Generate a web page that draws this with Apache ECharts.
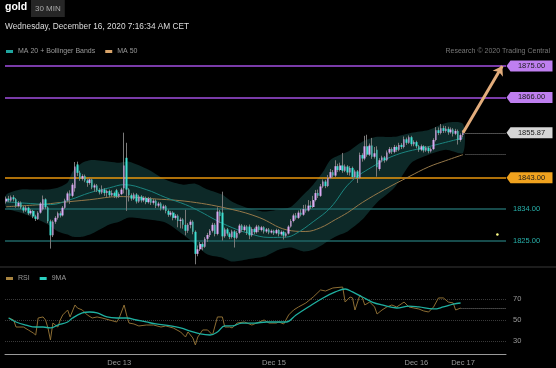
<!DOCTYPE html>
<html><head><meta charset="utf-8">
<script src="https://cdn.jsdelivr.net/npm/echarts@6/dist/echarts.min.js"></script>
<style>html,body{margin:0;padding:0;background:#000;}#c{width:556px;height:368px;}</style>
</head><body><div id="c"></div>
<script>
// 30-min gold candles: [open, close, low, high]
const candles = [
[1836.2,1837.0,1835.6,1837.6],[1837.0,1836.5,1836.0,1837.8],[1836.5,1837.4,1836.1,1837.9],[1837.4,1836.8,1836.2,1838.0],
[1836.8,1834.9,1834.4,1837.2],[1834.9,1835.8,1834.5,1836.3],[1835.8,1834.5,1834.0,1836.2],[1834.5,1833.6,1833.0,1835.0],
[1833.6,1834.4,1833.2,1834.9],[1834.4,1832.8,1832.3,1834.7],[1832.8,1833.5,1832.4,1834.0],[1833.5,1831.9,1831.4,1833.8],
[1831.9,1831.2,1830.6,1832.4],[1831.2,1833.0,1830.9,1833.4],[1833.0,1835.6,1832.7,1836.0],[1834.0,1836.8,1833.6,1837.9],
[1836.8,1834.5,1834.0,1837.1],[1834.5,1830.5,1830.0,1834.8],[1830.5,1826.5,1822.7,1831.0],[1826.5,1830.4,1826.0,1830.8],
[1830.4,1831.5,1829.8,1832.0],[1831.5,1832.8,1831.0,1833.3],[1832.8,1832.2,1831.6,1833.4],[1832.2,1834.4,1831.9,1834.9],
[1834.4,1836.5,1834.0,1837.0],[1836.5,1838.5,1836.0,1839.0],[1838.5,1837.8,1835.5,1839.4],[1837.8,1841.0,1837.4,1841.5],
[1840.0,1846.2,1839.0,1847.5],[1846.8,1844.4,1843.5,1847.6],[1844.4,1842.7,1842.1,1845.0],[1842.7,1843.5,1842.2,1844.0],
[1843.5,1842.2,1841.7,1843.9],[1842.2,1841.5,1840.4,1842.6],[1841.5,1842.5,1841.0,1842.9],[1842.5,1840.2,1839.7,1842.8],
[1840.2,1840.8,1839.0,1841.3],[1840.8,1839.5,1838.9,1841.2],[1839.5,1838.8,1838.2,1840.0],[1838.8,1839.6,1838.3,1840.8],
[1839.6,1838.6,1837.8,1840.0],[1838.6,1839.2,1837.5,1839.6],[1839.2,1838.0,1837.4,1839.6],[1838.0,1838.6,1837.6,1839.4],
[1838.6,1837.8,1837.2,1839.0],[1839.4,1837.6,1837.1,1839.8],[1837.6,1838.3,1837.2,1838.8],[1838.3,1839.6,1838.0,1840.1],
[1840.0,1846.5,1838.5,1855.9],[1848.7,1839.6,1833.5,1853.0],[1839.6,1838.0,1836.2,1840.0],[1838.0,1837.0,1836.4,1838.5],
[1837.0,1838.2,1836.6,1838.7],[1838.2,1836.2,1835.6,1838.6],[1836.2,1837.6,1835.8,1838.1],[1837.6,1836.5,1835.9,1838.0],
[1836.5,1837.2,1836.0,1837.7],[1837.2,1836.0,1835.4,1837.6],[1836.0,1837.0,1835.6,1837.5],[1837.0,1835.8,1835.2,1837.4],
[1835.8,1836.4,1835.3,1836.9],[1836.4,1835.0,1834.3,1836.8],[1835.0,1835.6,1834.5,1836.1],[1835.6,1834.2,1833.6,1836.0],
[1834.2,1834.8,1833.7,1835.3],[1834.8,1833.5,1832.8,1835.2],[1833.5,1832.4,1831.8,1833.9],[1832.4,1833.0,1831.9,1833.5],
[1833.0,1831.5,1830.8,1833.4],[1831.5,1832.1,1831.0,1832.6],[1832.1,1830.6,1828.8,1832.5],[1830.6,1831.0,1828.5,1831.6],
[1831.0,1829.5,1828.4,1831.4],[1829.5,1827.8,1826.5,1833.8],[1827.8,1829.5,1827.2,1830.0],[1829.5,1830.4,1828.5,1831.0],
[1830.4,1827.5,1826.8,1830.8],[1827.5,1821.2,1818.2,1827.9],[1821.2,1822.5,1820.5,1823.6],[1822.5,1824.0,1822.0,1824.6],
[1824.0,1823.2,1822.2,1824.5],[1823.2,1825.5,1822.9,1826.0],[1825.5,1826.6,1824.6,1827.2],[1826.6,1827.8,1826.0,1828.3],
[1827.8,1829.5,1827.3,1830.1],[1829.5,1826.9,1826.2,1830.0],[1826.9,1833.3,1826.5,1834.5],[1833.3,1832.0,1830.0,1833.8],
[1833.0,1826.2,1825.0,1839.0],[1826.2,1828.2,1825.8,1828.7],[1828.2,1827.0,1826.4,1828.6],[1827.0,1826.0,1825.4,1827.4],
[1826.0,1827.6,1825.6,1828.1],[1827.6,1825.8,1823.0,1828.0],[1825.8,1827.2,1825.4,1827.7],[1827.2,1829.3,1826.8,1829.8],
[1829.3,1828.0,1827.4,1829.7],[1828.0,1829.0,1827.6,1829.5],[1829.0,1827.2,1826.6,1829.4],[1829.0,1826.5,1825.4,1829.6],
[1826.5,1828.3,1826.1,1828.8],[1828.3,1827.4,1826.8,1828.7],[1827.4,1829.0,1827.0,1829.5],[1829.0,1828.0,1827.4,1829.4],
[1828.0,1828.8,1827.6,1829.2],[1828.8,1827.6,1827.0,1829.1],[1827.6,1828.2,1827.2,1828.6],[1828.2,1827.3,1826.8,1828.6],
[1827.3,1827.8,1827.0,1828.2],[1827.8,1827.1,1826.6,1828.1],[1827.1,1828.0,1826.8,1828.4],[1828.0,1826.8,1826.2,1828.3],
[1826.8,1827.5,1826.4,1827.9],[1827.5,1826.4,1825.3,1827.8],[1826.4,1827.0,1825.9,1827.4],[1827.0,1829.0,1826.7,1829.4],
[1829.0,1830.6,1828.7,1831.1],[1830.6,1832.2,1830.2,1832.7],[1832.2,1831.5,1831.0,1832.9],[1831.5,1833.0,1831.2,1833.6],
[1833.0,1832.4,1831.9,1834.0],[1832.4,1834.0,1832.1,1835.2],[1834.0,1833.6,1833.0,1835.3],[1833.6,1835.0,1833.3,1836.6],
[1835.0,1834.6,1834.0,1836.3],[1834.6,1836.6,1834.3,1837.8],[1836.6,1838.6,1836.2,1839.5],[1838.6,1837.8,1837.2,1839.6],
[1837.8,1840.5,1837.5,1841.2],[1840.5,1841.9,1840.0,1842.5],[1841.9,1840.6,1840.0,1842.4],[1840.6,1843.0,1840.3,1843.8],
[1843.0,1844.6,1842.6,1845.5],[1844.6,1843.6,1843.0,1845.2],[1843.6,1846.3,1843.2,1848.0],[1846.3,1845.2,1844.6,1847.0],
[1845.2,1846.5,1844.8,1847.3],[1846.5,1845.0,1844.4,1850.1],[1845.0,1846.2,1844.6,1846.8],[1846.2,1844.5,1843.8,1846.6],
[1844.5,1845.8,1843.6,1846.3],[1845.8,1843.2,1842.6,1846.2],[1843.2,1844.8,1842.8,1845.3],[1844.8,1843.0,1841.5,1845.2],
[1843.0,1849.5,1842.6,1850.2],[1849.5,1848.5,1847.6,1850.0],[1848.5,1852.0,1848.0,1855.0],[1852.0,1849.6,1849.0,1855.3],
[1849.6,1852.2,1849.2,1852.8],[1852.2,1849.0,1848.4,1854.4],[1849.0,1850.0,1848.5,1851.8],[1851.0,1846.0,1843.3,1852.0],
[1845.5,1848.0,1845.0,1848.6],[1848.0,1848.8,1847.4,1849.3],[1848.8,1848.0,1847.3,1849.2],[1848.0,1850.2,1847.7,1850.8],
[1850.2,1851.2,1849.8,1851.8],[1851.2,1850.4,1849.8,1851.7],[1850.4,1851.8,1850.0,1852.4],[1851.8,1851.0,1850.4,1852.2],
[1851.0,1852.4,1850.6,1853.0],[1852.4,1851.8,1851.2,1852.9],[1851.8,1854.0,1851.4,1854.8],[1854.0,1853.0,1852.4,1854.5],
[1853.0,1854.6,1852.7,1855.1],[1854.6,1852.6,1852.0,1855.0],[1852.6,1853.2,1852.0,1853.7],[1853.2,1852.0,1851.4,1853.6],
[1852.0,1851.0,1850.4,1852.4],[1851.0,1852.0,1850.6,1852.5],[1852.0,1850.8,1850.2,1852.3],[1850.8,1851.6,1850.4,1852.1],
[1851.6,1850.6,1850.0,1852.0],[1850.6,1851.2,1850.2,1851.7],[1851.2,1853.8,1850.9,1854.3],[1853.8,1856.6,1853.4,1857.5],
[1856.6,1855.8,1855.2,1857.4],[1855.8,1857.2,1855.4,1858.4],[1857.2,1856.4,1855.8,1857.9],[1856.4,1857.0,1855.9,1857.8],
[1857.0,1856.0,1855.3,1857.6],[1856.0,1856.8,1855.6,1857.4],[1856.8,1855.6,1854.8,1857.2],[1855.6,1856.4,1855.2,1857.0],
[1856.4,1853.8,1852.5,1856.8],[1853.8,1855.2,1853.3,1855.7],[1855.2,1855.87,1854.6,1856.6]
];
const totalSlots = 204;          // candle slots incl. empty space to the right
const lastPrice = 1855.87;

// Bollinger band samples (candle index, upper, lower)
const bandIdx   = [0,6,11,17,21,25,27,31,35,42,46,50,58,65,72,77,82,88,92,98,105,111,116,121,125,129,132,136,139,145,151,158,165,172,179,186];
const bandUpper = [1838.1,1839.6,1839.6,1839.6,1840.1,1841.6,1844.7,1847.3,1848.1,1847.6,1847.3,1847.6,1845.3,1842.4,1841.0,1841.3,1839.6,1838.1,1836.1,1834.4,1833.3,1833.9,1834.7,1838.1,1841.0,1844.7,1848.1,1849.6,1850.4,1853.3,1854.7,1854.7,1855.9,1856.7,1858.7,1858.4];
const bandLower = [1834.4,1833.0,1831.6,1829.6,1827.6,1826.7,1826.1,1826.1,1827.0,1829.6,1830.4,1831.6,1831.0,1830.1,1826.7,1823.9,1821.0,1820.1,1819.0,1819.6,1820.4,1822.4,1823.0,1821.9,1822.4,1823.9,1825.3,1826.7,1827.6,1831.0,1835.9,1840.1,1847.3,1849.6,1851.0,1850.1];

const ma20 = [[0,1836.1],[10,1835.6],[18,1835.3],[26,1836.7],[34,1838.7],[42,1840.1],[48,1841.0],[57,1839.6],[65,1837.3],[73,1835.3],[79,1833.3],[85,1831.0],[92,1828.7],[99,1827.0],[107,1825.9],[114,1826.0],[118,1827.0],[125,1830.4],[132,1834.4],[140,1841.6],[149,1846.1],[159,1849.6],[172,1851.9],[186,1854.4]];
const ma50 = [[0,1834.7],[14,1835.3],[22,1835.9],[34,1836.7],[46,1837.6],[59,1837.0],[75,1836.1],[92,1833.9],[103,1831.6],[114,1828.1],[122,1827.6],[128,1828.7],[134,1831.0],[139,1833.0],[145,1835.9],[154,1839.6],[164,1843.3],[172,1846.1],[179,1847.9],[186,1849.6]];

const rsi = [[1,51.9],[3,50.0],[4,43.3],[7,43.3],[9,40.5],[11,37.6],[12,35.7],[13,51.9],[15,52.9],[16,50.0],[17,42.4],[18,31.0],[19,47.1],[21,43.3],[22,50.0],[23,54.8],[25,59.5],[26,52.9],[28,64.3],[29,61.4],[31,59.5],[33,54.8],[35,51.9],[37,52.9],[39,51.9],[42,50.0],[45,48.1],[46,51.9],[48,64.3],[49,54.8],[50,47.1],[52,46.2],[54,44.3],[57,45.2],[60,45.2],[63,43.3],[65,44.3],[68,42.4],[71,38.6],[73,33.8],[74,38.6],[76,32.9],[77,26.2],[78,33.8],[80,40.5],[82,40.5],[84,35.7],[86,52.9],[88,52.9],[89,43.3],[91,43.3],[92,42.4],[94,47.1],[97,48.1],[100,45.2],[103,48.1],[105,50.0],[107,47.1],[110,47.1],[111,48.1],[113,46.2],[115,54.8],[117,59.5],[119,62.4],[122,66.2],[125,71.9],[128,78.6],[130,77.6],[133,80.5],[137,81.4],[138,67.1],[140,71.9],[141,71.0],[142,59.5],[144,73.8],[145,71.0],[146,64.3],[148,67.1],[150,62.4],[151,55.7],[153,59.5],[155,62.4],[157,64.3],[159,62.4],[162,67.1],[164,62.4],[166,61.4],[168,60.5],[170,58.6],[172,57.6],[174,62.4],[176,71.0],[178,71.0],[180,67.1],[182,66.2],[183,59.5],[185,61.4]];
const rsi9 = [[1,51.9],[4,48.1],[8,45.2],[12,43.3],[15,43.3],[18,42.4],[21,45.2],[25,48.1],[27,51.9],[31,56.7],[34,57.6],[37,56.7],[41,52.9],[45,51.9],[49,51.9],[53,50.0],[57,48.1],[61,46.2],[67,44.3],[71,42.4],[75,39.5],[79,36.7],[83,35.7],[86,38.6],[89,44.3],[92,44.3],[96,47.1],[101,47.1],[106,48.1],[110,48.1],[114,48.1],[118,54.8],[123,62.4],[129,71.0],[134,76.7],[138,79.5],[141,76.7],[145,71.9],[149,67.1],[153,64.3],[159,61.4],[164,63.3],[168,62.4],[174,60.5],[178,62.4],[182,65.2],[185,66.2]];

const resistanceLevels = [1875, 1866];
const pivotLevels = [1843];
const supportLevels = [1834, 1825];
const targetLevel = 1875;
const rsiLevels = [70, 50, 30];
const xLabelIdx  = [46, 109, 167, 186];
const xLabelText = ['Dec 13', 'Dec 15', 'Dec 16', 'Dec 17'];

const FONT = 'Liberation Sans, Arial, sans-serif';
const categories = Array.from({length: totalSlots}, (_, i) => String(i));
const bodies = candles.map(d => [d[0], d[1], Math.min(d[0], d[1]), Math.max(d[0], d[1])]);
const lastIdx = candles.length - 1;
const edge = totalSlots - 0.5;
const rsiLast = rsi[rsi.length - 1];
const ma50Last = ma50[ma50.length - 1];

const tagPath = 'path://M0,5L4,0L46,0L46,10L4,10Z';
function tag(v, fill) {
  return {coord: [edge, v], symbol: tagPath, symbolSize: [46, 11], symbolOffset: [23.5, 0],
    itemStyle: {color: fill},
    label: {show: true, position: 'inside', offset: [2, 0], formatter: v.toFixed(2), color: '#1a1a1a', fontSize: 7.5, fontFamily: FONT}};
}

const levelLines = [];
resistanceLevels.forEach(v => levelLines.push({yAxis: v, lineStyle: {color: '#a24fe0', width: 1.5, type: 'solid'}, label: {show: false}}));
pivotLevels.forEach(v => levelLines.push({yAxis: v, lineStyle: {color: '#e8960c', width: 1.6, type: 'solid'}, label: {show: false}}));
supportLevels.forEach(v => levelLines.push({yAxis: v, lineStyle: {color: '#1f6464', width: 1.5, type: 'solid'},
  label: {show: true, position: 'end', distance: 7, formatter: v.toFixed(2), color: '#27b0aa', fontSize: 7.5, fontFamily: FONT}}));

const chart = echarts.init(document.getElementById('c'), null, {renderer: 'canvas'});
chart.setOption({
  backgroundColor: '#000',
  animation: false,
  textStyle: {fontFamily: FONT},
  title: [
    {text: 'gold', left: 5, top: 2, padding: 0, textStyle: {color: '#fff', fontSize: 10.5, fontWeight: 'bold', fontFamily: FONT}},
    {text: '30 MIN', left: 31, top: 0, padding: [5, 4, 4, 4], backgroundColor: '#262626', textStyle: {color: '#aaa', fontSize: 8, fontWeight: 'normal', fontFamily: FONT}},
    {text: 'Wednesday, December 16, 2020 7:16:34 AM CET', left: 5, top: 23, padding: 0, textStyle: {color: '#ddd', fontSize: 8.3, fontWeight: 'normal', fontFamily: FONT}},
    {text: 'Research © 2020 Trading Central', right: 6, top: 48, padding: 0, textStyle: {color: '#777', fontSize: 7, fontWeight: 'normal', fontFamily: FONT}}
  ],
  legend: [
    {left: 6, top: 48, padding: 0, icon: 'rect', itemWidth: 7, itemHeight: 3, itemGap: 10, selectedMode: false,
      textStyle: {color: '#999', fontSize: 7, fontFamily: FONT},
      data: [{name: 'MA 20 + Bollinger Bands', itemStyle: {color: '#1fa59f'}}, {name: 'MA 50', itemStyle: {color: '#d9a46a'}}]},
    {left: 6, top: 275, padding: 0, icon: 'rect', itemWidth: 7, itemHeight: 3, itemGap: 10, selectedMode: false,
      textStyle: {color: '#999', fontSize: 7, fontFamily: FONT},
      data: [{name: 'RSI', itemStyle: {color: '#a88440'}}, {name: '9MA', itemStyle: {color: '#2ad0c0'}}]}
  ],
  graphic: [
    {type: 'line', shape: {x1: 0, y1: 267, x2: 556, y2: 267}, style: {stroke: '#1c1c1c', lineWidth: 2}, silent: true}
  ],
  grid: [
    {left: 5, top: 59, width: 501, height: 206},
    {left: 5, top: 278, width: 501, height: 76}
  ],
  xAxis: [
    {type: 'category', gridIndex: 0, data: categories, boundaryGap: true, show: false},
    {type: 'value', gridIndex: 0, min: -0.5, max: edge, show: false},
    {type: 'category', gridIndex: 1, data: categories, boundaryGap: true,
      axisLine: {show: true, lineStyle: {color: '#9a9a9a', width: 1}}, axisTick: {show: false}, splitLine: {show: false},
      axisLabel: {color: '#999', fontSize: 7.5, margin: 5, fontFamily: FONT,
        interval: (i) => xLabelIdx.indexOf(i) >= 0,
        formatter: (v, i) => { const k = xLabelIdx.indexOf(i); return k >= 0 ? xLabelText[k] : ''; }}},
    {type: 'value', gridIndex: 1, min: -0.5, max: edge, show: false}
  ],
  yAxis: [
    {type: 'value', gridIndex: 0, min: 1818, max: 1877, show: false, splitLine: {show: false}},
    {type: 'value', gridIndex: 1, min: 17.6, max: 90, show: false, splitLine: {show: false}}
  ],
  series: [
    {type: 'custom', name: 'band', xAxisIndex: 1, yAxisIndex: 0, z: 0, silent: true,
      data: [[bandIdx[0], bandUpper[0]]],
      renderItem: (params, api) => {
        const pts = [];
        for (let k = 0; k < bandIdx.length; k++) pts.push(api.coord([bandIdx[k], bandUpper[k]]));
        for (let k = bandIdx.length - 1; k >= 0; k--) pts.push(api.coord([bandIdx[k], bandLower[k]]));
        return {type: 'polygon', shape: {points: pts, smooth: 0.25}, style: {fill: '#0d2928'}};
      }},
    {type: 'line', name: 'MA 50', xAxisIndex: 1, yAxisIndex: 0, data: ma50, smooth: 0.4, showSymbol: false, z: 2,
      lineStyle: {color: '#957849', width: 1}, itemStyle: {color: '#957849'},
      markLine: {silent: true, symbol: ['none', 'none'], z: 1, data: levelLines}},
    {type: 'line', name: 'MA 20 + Bollinger Bands', xAxisIndex: 1, yAxisIndex: 0, data: ma20, smooth: 0.4, showSymbol: false, z: 2,
      lineStyle: {color: '#1b8580', width: 1}, itemStyle: {color: '#1b8580'},
      markLine: {silent: true, symbol: ['none', 'none'], z: 2, label: {show: false},
        data: [
          [{coord: [lastIdx + 1, lastPrice], lineStyle: {color: '#9a9a9a', width: 1, type: 'dotted'}}, {coord: [edge, lastPrice]}],
          [{coord: [ma50Last[0] + 1, ma50Last[1]], lineStyle: {color: '#777', width: 1, type: 'dotted'}}, {coord: [edge, ma50Last[1]]}]
        ]},
      markPoint: {silent: true, z: 6, data: [
        tag(resistanceLevels[0], '#bf7ff0'), tag(resistanceLevels[1], '#bf7ff0'),
        tag(lastPrice, '#d6d6d6'), tag(pivotLevels[0], '#f0a21e'),
        {coord: [200, 1826.7], symbol: 'circle', symbolSize: 2.5, itemStyle: {color: '#ffff88'}, label: {show: false}}
      ]}},
    {type: 'candlestick', name: 'wick', xAxisIndex: 0, yAxisIndex: 0, data: candles, barWidth: 0.05, z: 3, silent: true,
      itemStyle: {color: '#7a7a7a', color0: '#7a7a7a', borderColor: '#7a7a7a', borderColor0: '#7a7a7a', borderWidth: 1}},
    {type: 'candlestick', name: 'body', xAxisIndex: 0, yAxisIndex: 0, data: bodies, barWidth: 2.1, z: 4, silent: true,
      itemStyle: {color: '#dcaaf5', color0: '#3fe0d2', borderColor: '#dcaaf5', borderColor0: '#3fe0d2', borderWidth: 0}},
    {type: 'line', name: 'arrow', xAxisIndex: 1, yAxisIndex: 0, data: [], z: 5,
      markLine: {silent: true, z: 7, symbol: ['none', 'arrow'], symbolSize: 9, label: {show: false},
        lineStyle: {color: '#e3ad7c', width: 3, type: 'solid'},
        data: [[{coord: [lastIdx, lastPrice]}, {coord: [202, targetLevel]}]]}},
    {type: 'line', name: 'RSI', xAxisIndex: 3, yAxisIndex: 1, data: rsi, showSymbol: false, z: 2,
      lineStyle: {color: '#8c6d33', width: 1}, itemStyle: {color: '#8c6d33'},
      markLine: {silent: true, symbol: ['none', 'none'], z: 1,
        data: rsiLevels.map(v => ({yAxis: v, lineStyle: {color: '#3a3a3a', width: 1, type: 'dotted'},
          label: {show: true, position: 'end', distance: 7, formatter: String(v), color: '#999', fontSize: 7.5, fontFamily: FONT}})).concat([
          [{coord: [rsiLast[0], rsiLast[1]], lineStyle: {color: '#7a7a7a', width: 1, type: 'dotted'}, label: {show: false}}, {coord: [edge, rsiLast[1]]}]
        ])}},
    {type: 'line', name: '9MA', xAxisIndex: 3, yAxisIndex: 1, data: rsi9, smooth: 0.4, showSymbol: false, z: 3,
      lineStyle: {color: '#1fb0a0', width: 1.3}, itemStyle: {color: '#1fb0a0'}}
  ]
});
</script>
</body></html>
